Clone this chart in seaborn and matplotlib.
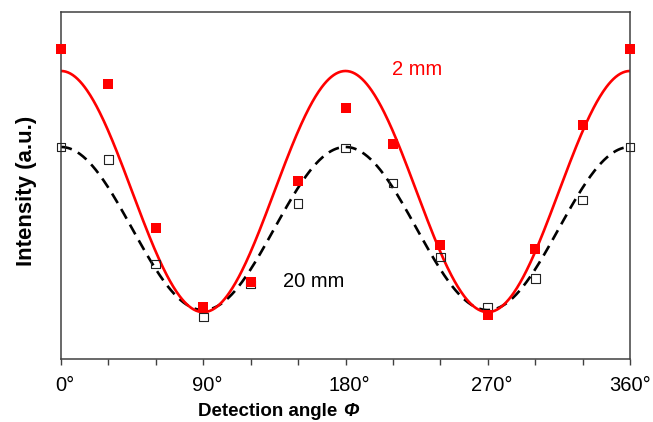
import numpy as np
import matplotlib
matplotlib.use("Agg")
import matplotlib.pyplot as plt
import matplotlib.transforms as mtransforms
import seaborn as sns

# ---- data ----
angles = [0, 30, 60, 90, 120, 150, 180, 210, 240, 270, 300, 330, 360]
intensity_2mm = [0.893, 0.793, 0.378, 0.150, 0.222, 0.513, 0.723,
                 0.620, 0.329, 0.127, 0.317, 0.674, 0.893]
intensity_20mm = [0.611, 0.576, 0.274, 0.121, 0.216, 0.447, 0.608,
                  0.507, 0.294, 0.150, 0.233, 0.458, 0.611]
# fitted cos^2 curves: peak and trough levels
fit_2mm = {"peak": 0.830, "trough": 0.135}
fit_20mm = {"peak": 0.611, "trough": 0.141}
major_ticks = [0, 90, 180, 270, 360]
major_labels = ["0°", "90°", "180°", "270°", "360°"]
minor_ticks = [30, 60, 120, 150, 210, 240, 300, 330]

sns.set_style("white")
plt.rcParams["font.family"] = ["Liberation Sans", "DejaVu Sans"]
plt.rcParams["text.color"] = "black"
plt.rcParams["axes.labelcolor"] = "black"
plt.rcParams["xtick.color"] = "black"
plt.rcParams["xtick.labelcolor"] = "black"

fig = plt.figure(figsize=(6.53, 4.22), dpi=100)
ax = fig.add_axes([61 / 653, 1 - 359 / 422, (630 - 61) / 653, (359 - 12) / 422])

phi = np.linspace(0, 360, 721)
def cos2_fit(p):
    c = np.cos(np.deg2rad(phi)) ** 2
    return p["trough"] + (p["peak"] - p["trough"]) * c

sns.lineplot(x=phi, y=cos2_fit(fit_20mm), ax=ax, color="black", lw=1.9,
             linestyle=(0, (4.2, 2.6)))
sns.lineplot(x=phi, y=cos2_fit(fit_2mm), ax=ax, color="#ff0000", lw=1.9)

sns.scatterplot(x=angles, y=intensity_20mm, ax=ax, marker="s", s=40,
                facecolors="none", edgecolors="#222222", linewidth=0.8,
                zorder=3, clip_on=False)
sns.scatterplot(x=angles, y=intensity_2mm, ax=ax, marker="s", s=52,
                color="#ff0000", linewidth=0, zorder=4, clip_on=False)

ax.set_xlim(0, 360)
ax.set_ylim(0, 1)
ax.set_yticks([])
ax.set_xticks(major_ticks)
ax.set_xticklabels(major_labels, fontsize=14.5, color="black")
ax.set_xticks(minor_ticks, minor=True)
ax.tick_params(axis="x", which="both", direction="out", length=4.5,
               width=1.0, color="#404040", labelcolor="black", pad=7.5,
               bottom=True)
labels = ax.get_xticklabels()
for i, lab in enumerate(labels):
    dx = 4 if i < len(labels) - 1 else 0
    lab.set_transform(lab.get_transform() +
                      mtransforms.ScaledTranslation(dx / 100, 0, fig.dpi_scale_trans))

for sp in ax.spines.values():
    sp.set_visible(True)
    sp.set_color("#404040")
    sp.set_linewidth(1.1)

ax.set_xlabel("Detection angle", fontsize=13.5, fontweight="bold", color="black")
ax.xaxis.set_label_coords((268 - 61) / 569, -0.127)
ax.set_ylabel("Intensity (a.u.)", fontsize=16, fontweight="bold", color="black")
ax.yaxis.set_label_coords(-0.042, 0.485)

fig.canvas.draw()
bb = ax.xaxis.label.get_window_extent(fig.canvas.get_renderer())
fig.text((bb.x1 + 5) / 653, bb.y0 / 422, "Φ", fontsize=13.5, fontweight="bold",
         fontstyle="italic", va="bottom", ha="left", color="black")

ax.text((392 - 61) / 1.5806, (359 - 75) / 347, "2 mm", color="#ff0000",
        fontsize=14.5, va="baseline", ha="left")
ax.text((283 - 61) / 1.5806, (359 - 287) / 347, "20 mm", color="black",
        fontsize=14.5, va="baseline", ha="left")

fig.savefig("out.png", dpi=100)
